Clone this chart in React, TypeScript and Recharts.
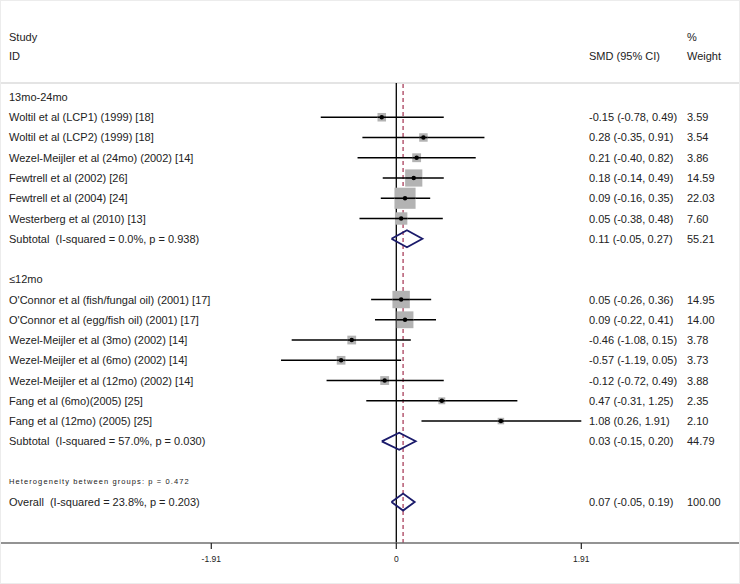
import React from "react";
import { ScatterChart, Scatter, XAxis, YAxis, ReferenceLine } from "recharts";

const groupNames = ["13mo-24mo", "≤12mo"];
const subtotalLabels = [
  "Subtotal  (I-squared = 0.0%, p = 0.938)",
  "Subtotal  (I-squared = 57.0%, p = 0.030)",
];
const subtotalSmd = [0.11, 0.03];
const subtotalLower = [-0.05, -0.15];
const subtotalUpper = [0.27, 0.2];
const subtotalWeight = [55.21, 44.79];

const studyNames = [
  "Woltil et al (LCP1) (1999) [18]",
  "Woltil et al (LCP2) (1999) [18]",
  "Wezel-Meijler et al (24mo) (2002) [14]",
  "Fewtrell et al (2002) [26]",
  "Fewtrell et al (2004) [24]",
  "Westerberg et al (2010) [13]",
  "O'Connor et al (fish/fungal oil) (2001) [17]",
  "O'Connor et al (egg/fish oil) (2001) [17]",
  "Wezel-Meijler et al (3mo) (2002) [14]",
  "Wezel-Meijler et al (6mo) (2002) [14]",
  "Wezel-Meijler et al (12mo) (2002) [14]",
  "Fang et al (6mo)(2005) [25]",
  "Fang et al (12mo) (2005) [25]",
];
const studyGroup = [0, 0, 0, 0, 0, 0, 1, 1, 1, 1, 1, 1, 1];
const studySmd = [-0.15, 0.28, 0.21, 0.18, 0.09, 0.05, 0.05, 0.09, -0.46, -0.57, -0.12, 0.47, 1.08];
const studyLower = [-0.78, -0.35, -0.4, -0.14, -0.16, -0.38, -0.26, -0.22, -1.08, -1.19, -0.72, -0.31, 0.26];
const studyUpper = [0.49, 0.91, 0.82, 0.49, 0.35, 0.48, 0.36, 0.41, 0.15, 0.05, 0.49, 1.25, 1.91];
const studyWeight = [3.59, 3.54, 3.86, 14.59, 22.03, 7.6, 14.95, 14.0, 3.78, 3.73, 3.88, 2.35, 2.1];

const heterogeneityLabel = "Heterogeneity between groups: p = 0.472";
const overallLabel = "Overall  (I-squared = 23.8%, p = 0.203)";
const overallSmd = 0.07;
const overallLower = -0.05;
const overallUpper = 0.19;
const overallWeight = 100;

const xTicks = [-1.91, 0, 1.91];

type Row = {
  y: number;
  kind: "group" | "study" | "subtotal" | "blank" | "het" | "overall";
  label: string;
  x: number;
  smd?: number;
  lo?: number;
  hi?: number;
  weight?: number;
};

// one row per line of the plot, top to bottom
const rows: Row[] = [];
groupNames.forEach((g, gi) => {
  rows.push({ y: rows.length, kind: "group", label: g, x: 0 });
  studyNames.forEach((name, i) => {
    if (studyGroup[i] !== gi) return;
    rows.push({
      y: rows.length,
      kind: "study",
      label: name,
      x: studySmd[i],
      smd: studySmd[i],
      lo: studyLower[i],
      hi: studyUpper[i],
      weight: studyWeight[i],
    });
  });
  rows.push({
    y: rows.length,
    kind: "subtotal",
    label: subtotalLabels[gi],
    x: subtotalSmd[gi],
    smd: subtotalSmd[gi],
    lo: subtotalLower[gi],
    hi: subtotalUpper[gi],
    weight: subtotalWeight[gi],
  });
  rows.push({ y: rows.length, kind: "blank", label: "", x: 0 });
});
rows.push({ y: rows.length, kind: "het", label: heterogeneityLabel, x: 0 });
rows.push({
  y: rows.length,
  kind: "overall",
  label: overallLabel,
  x: overallSmd,
  smd: overallSmd,
  lo: overallLower,
  hi: overallUpper,
  weight: overallWeight,
});

const studyRows = rows.filter((r) => r.kind === "study");
const pooledRows = rows.filter((r) => r.kind === "subtotal" || r.kind === "overall");
const textRows = rows.filter((r) => r.kind !== "blank");

const FONT = "'Liberation Sans', Arial, sans-serif";
const TEXT = "#222";
const DIAMOND_H = 0.42;

const diamondPoints = (r: Row) => [
  { x: r.lo, y: r.y },
  { x: r.smd, y: r.y - DIAMOND_H },
  { x: r.hi, y: r.y },
  { x: r.smd, y: r.y + DIAMOND_H },
  { x: r.lo, y: r.y },
];

const fmt = (v: number) => v.toFixed(2);

function StudyMarker(props: any) {
  const { cx, cy, payload } = props;
  const s = 4.5 * Math.sqrt(payload.weight);
  return (
    <g>
      <rect x={cx - s / 2} y={cy - s / 2} width={s} height={s} fill="#b3b3b3" />
      <line x1={cx - s / 2} x2={cx + s / 2} y1={cy} y2={cy} stroke="#000" strokeWidth={1.6} />
      <circle cx={cx} cy={cy} r={2.2} fill="#000" />
    </g>
  );
}

function RowText(props: any) {
  const { cy, payload } = props;
  const r: Row = payload;
  const small = r.kind === "het";
  return (
    <g fontFamily={FONT} fill={TEXT}>
      <text
        x={9}
        y={cy}
        dominantBaseline="central"
        fontSize={small ? 7.5 : 11}
        letterSpacing={small ? 1.1 : undefined}
        style={{ whiteSpace: "pre" }}
      >
        {r.label}
      </text>
      {r.smd !== undefined && (
        <>
          <text x={589} y={cy} dominantBaseline="central" fontSize={11}>
            {`${fmt(r.smd)} (${fmt(r.lo!)}, ${fmt(r.hi!)})`}
          </text>
          <text x={687} y={cy} dominantBaseline="central" fontSize={11}>
            {fmt(r.weight!)}
          </text>
        </>
      )}
    </g>
  );
}

const headerStyle = (left: number, top: number): React.CSSProperties => ({
  position: "absolute",
  left,
  top,
  fontFamily: FONT,
  fontSize: 11,
  lineHeight: "12px",
  color: TEXT,
  whiteSpace: "nowrap",
});

export default function App() {
  return (
    <div
      style={{
        position: "absolute",
        left: 0,
        top: 0,
        width: 740,
        height: 584,
        background: "#fff",
      }}
    >
      <div style={headerStyle(9, 31)}>Study</div>
      <div style={headerStyle(9, 50)}>ID</div>
      <div style={headerStyle(687, 31)}>%</div>
      <div style={headerStyle(589, 50)}>SMD (95% CI)</div>
      <div style={headerStyle(687, 50)}>Weight</div>
      <ScatterChart
        width={740}
        height={584}
        margin={{ top: 83, right: 1, bottom: 11, left: 1 }}
      >
        <XAxis
          type="number"
          dataKey="x"
          domain={[-4.081, 3.538]}
          ticks={xTicks}
          allowDataOverflow
          height={30}
          tickSize={6}
          tickMargin={7}
          tickFormatter={(v: number) => (v === 0 ? "0" : v.toFixed(2))}
          tick={{ fontSize: 8.5, fill: TEXT, fontFamily: FONT }}
          axisLine={{ stroke: "#6f6f6f", strokeWidth: 1.6 }}
          tickLine={{ stroke: "#222", strokeWidth: 1.2 }}
        />
        <YAxis type="number" dataKey="y" domain={[-0.69, 22.02]} reversed hide allowDataOverflow />
        <ReferenceLine y={-0.69} stroke="#c9c9c9" strokeWidth={1.2} />
        <ReferenceLine x={0} stroke="#000" strokeWidth={1.3} />
        <ReferenceLine
          x={overallSmd}
          stroke="#a3304e"
          strokeWidth={1.2}
          strokeDasharray="4 3"
        />
        {studyRows.map((r) => (
          <ReferenceLine
            key={`ci-${r.y}`}
            segment={[
              { x: r.lo, y: r.y },
              { x: r.hi, y: r.y },
            ]}
            stroke="#000"
            strokeWidth={1.6}
          />
        ))}
        <Scatter data={studyRows} shape={StudyMarker} isAnimationActive={false} />
        {pooledRows.map((r) => (
          <Scatter
            key={`pool-${r.y}`}
            data={diamondPoints(r)}
            line={{ stroke: "#1b1b6b", strokeWidth: 1.8 }}
            lineJointType="linear"
            lineType="joint"
            shape={() => <g />}
            isAnimationActive={false}
          />
        ))}
        <Scatter data={textRows} shape={RowText} isAnimationActive={false} />
      </ScatterChart>
      <div
        style={{
          position: "absolute",
          inset: 0,
          border: "1px solid #ececec",
          boxSizing: "border-box",
          pointerEvents: "none",
        }}
      />
    </div>
  );
}
